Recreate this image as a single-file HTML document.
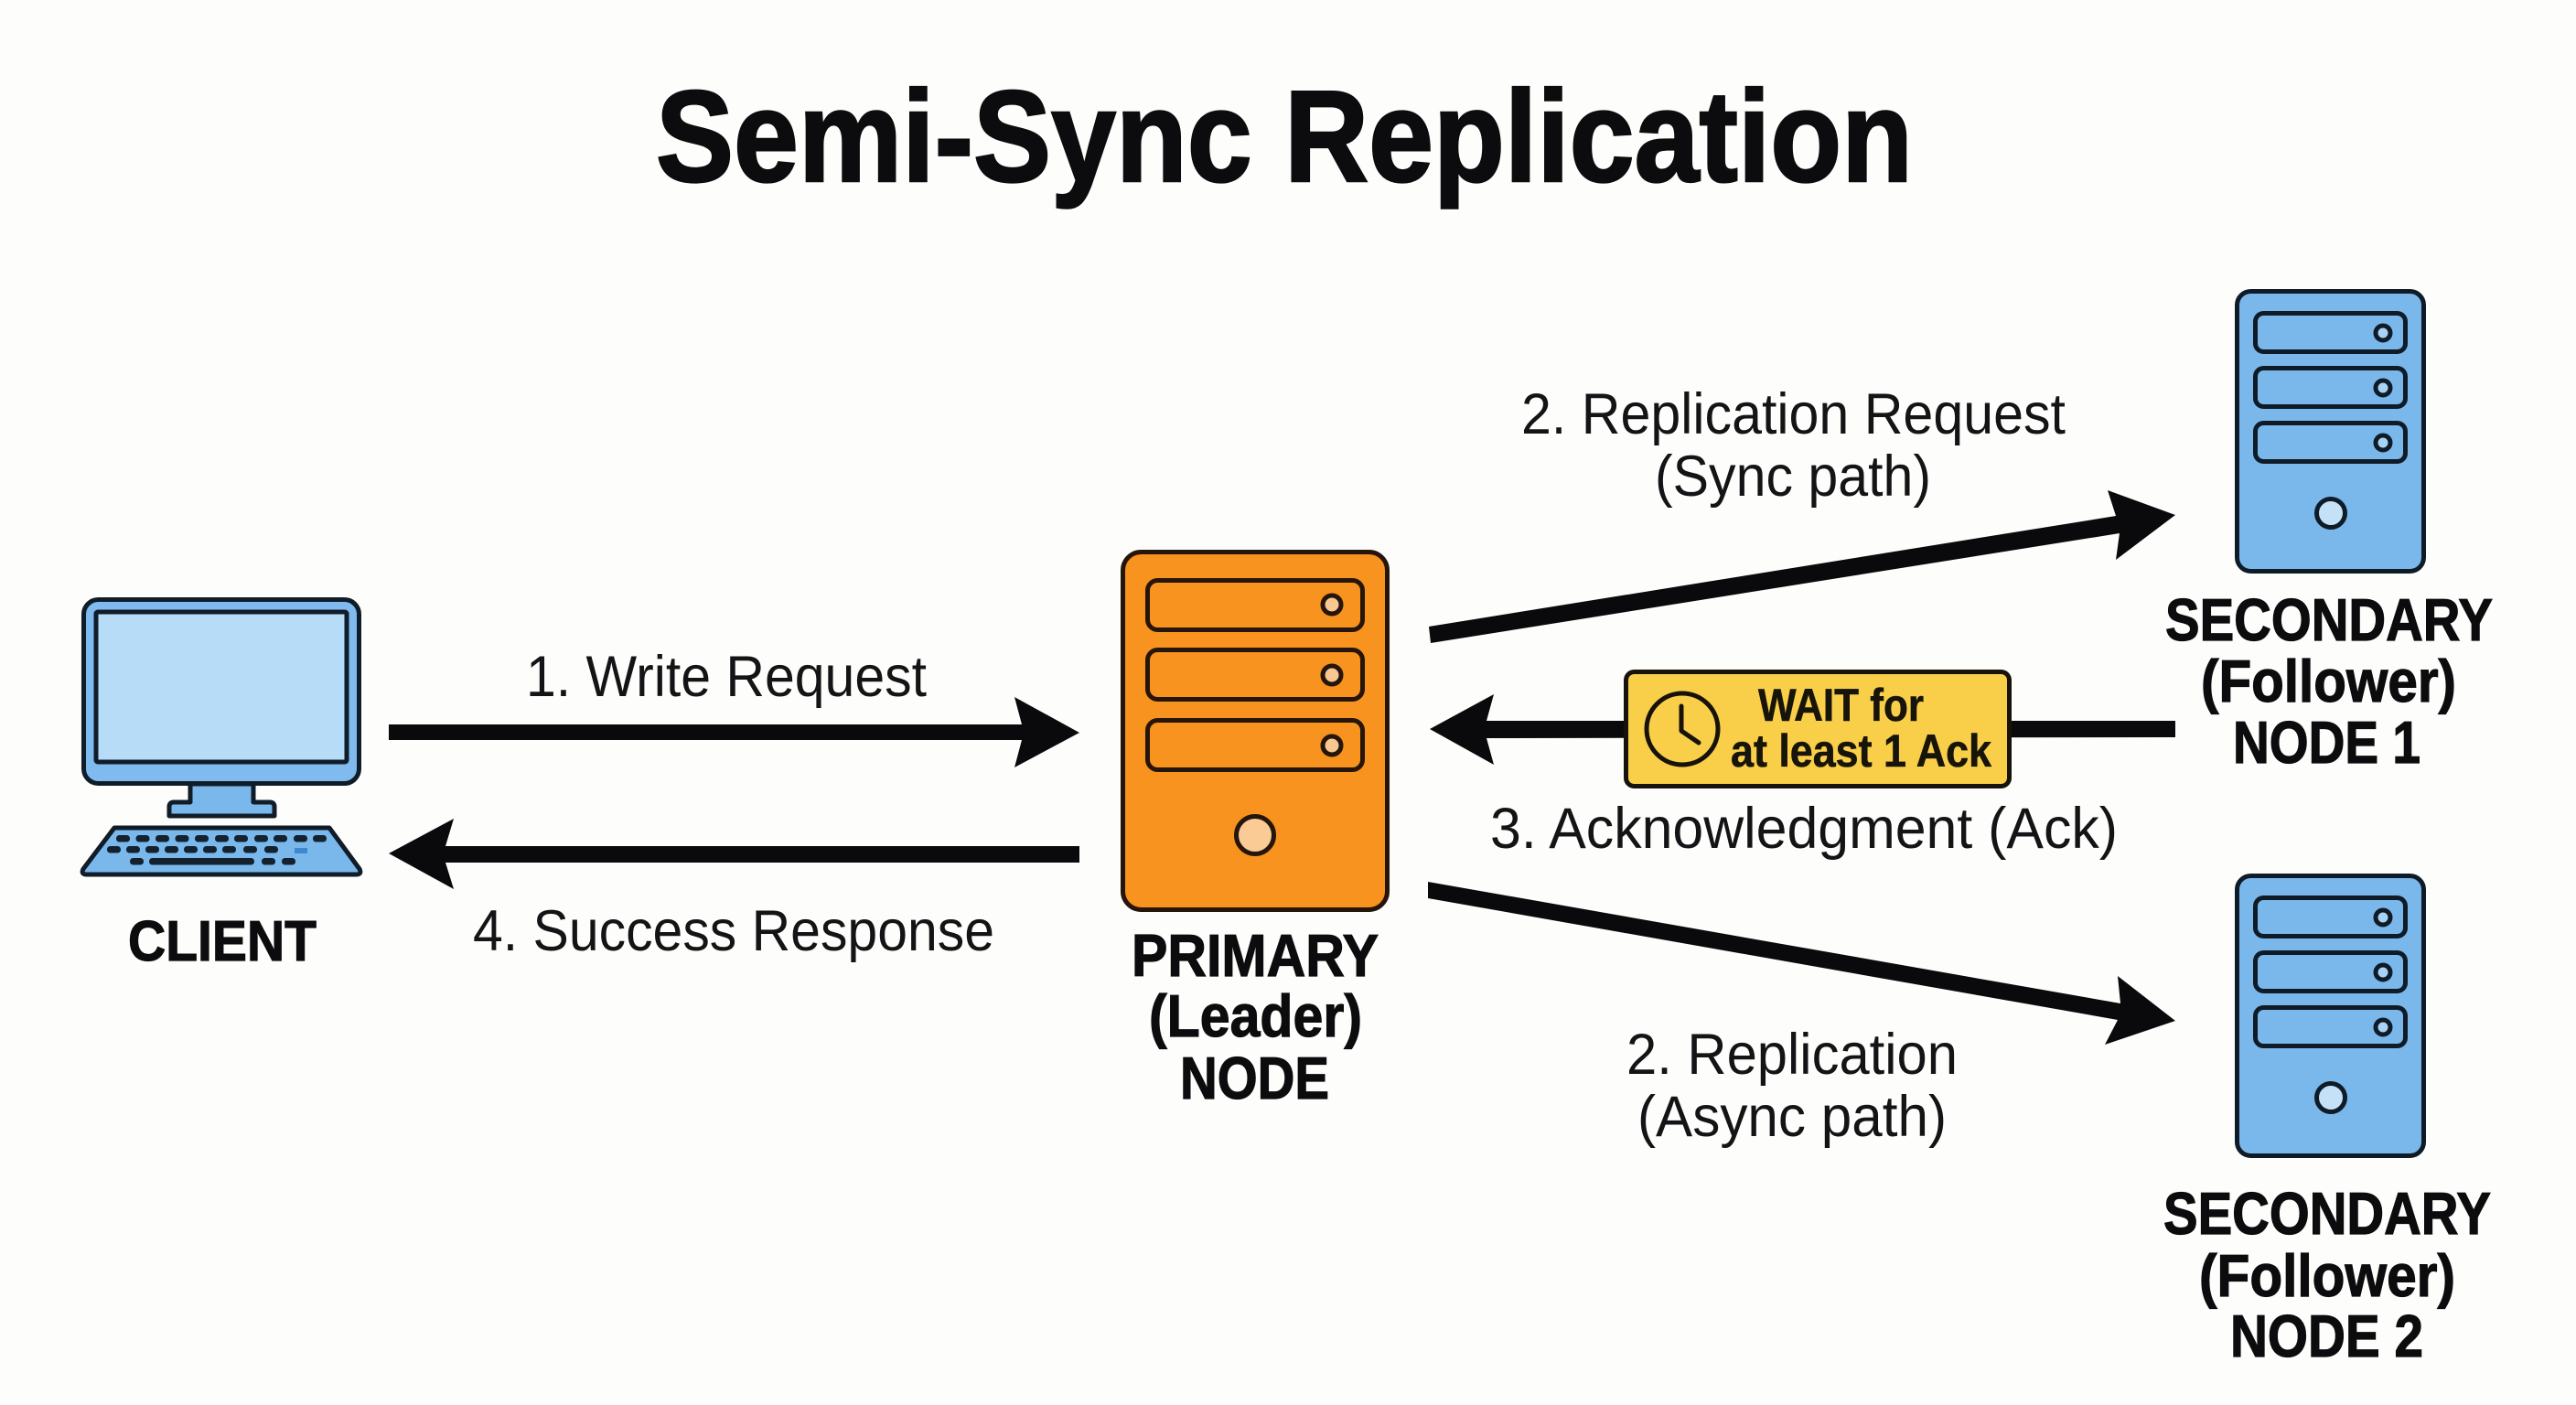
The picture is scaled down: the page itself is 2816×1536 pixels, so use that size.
<!DOCTYPE html>
<html lang="en">
<head>
<meta charset="utf-8">
<title>Semi-Sync Replication</title>
<style>
html,body{margin:0;padding:0;background:#fdfdfb;width:2816px;height:1536px;overflow:hidden}
svg{display:block}
text{font-family:"Liberation Sans",Arial,sans-serif;fill:#0c0c0e}
.b{font-weight:700;font-size:65px;stroke:#0c0c0e;stroke-width:1.2px}
.r{font-weight:400;font-size:63px;fill:#141416}
.w{font-weight:700;font-size:50px;fill:#17140a;stroke:#17140a;stroke-width:.6px}
</style>
</head>
<body>
<svg xmlns="http://www.w3.org/2000/svg" width="2816" height="1536" viewBox="0 0 2816 1536">
<rect width="2816" height="1536" fill="#fdfdfb"/>

<text x="717" y="198" font-weight="700" font-size="142" textLength="1374" lengthAdjust="spacingAndGlyphs" stroke="#0c0c0e" stroke-width="2.5">Semi-Sync Replication</text>

<!-- Client -->
<g stroke="#101c28" stroke-width="5" stroke-linejoin="round">
  <path d="M208,857 V877 H190 Q185,877 185,882 V892 H300 V882 Q300,877 295,877 H277 V857 Z" fill="#7ab8ec"/>
  <rect x="91.5" y="655.5" width="301" height="201" rx="16" fill="#7fbbee"/>
  <rect x="105" y="669" width="274" height="164" rx="2" fill="#b7dcf8"/>
  <path d="M125,905 H360 L393,950 Q396,956 389,956 H95 Q88,956 91,950 Z" fill="#7ab8ec"/>
</g>
<g fill="#14222f">
  <rect x="127" y="913" width="15" height="7.5" rx="3.5"/><rect x="148.500" y="913" width="15" height="7.5" rx="3.5"/><rect x="170" y="913" width="15" height="7.5" rx="3.5"/><rect x="191.500" y="913" width="15" height="7.5" rx="3.5"/><rect x="213" y="913" width="15" height="7.5" rx="3.5"/><rect x="235" y="913" width="15" height="7.5" rx="3.5"/><rect x="256" y="913" width="15" height="7.5" rx="3.5"/><rect x="278" y="913" width="15" height="7.5" rx="3.5"/><rect x="299" y="913" width="15" height="7.5" rx="3.5"/><rect x="321" y="913" width="15" height="7.5" rx="3.5"/><rect x="342" y="913" width="15" height="7.5" rx="3.5"/>
  <rect x="117" y="925" width="15" height="7.5" rx="3.5"/><rect x="138" y="925" width="15" height="7.5" rx="3.5"/><rect x="159" y="925" width="15" height="7.5" rx="3.5"/><rect x="180" y="925" width="15" height="7.5" rx="3.5"/><rect x="201" y="925" width="15" height="7.5" rx="3.5"/><rect x="222" y="925" width="15" height="7.5" rx="3.5"/><rect x="243" y="925" width="15" height="7.5" rx="3.5"/><rect x="266" y="925" width="15" height="7.5" rx="3.5"/><rect x="289" y="925" width="15" height="7.5" rx="3.5"/>
  <rect x="142" y="938" width="15" height="7.5" rx="3.5"/><rect x="163" y="938" width="115" height="7.5" rx="3.5"/><rect x="286" y="938" width="15" height="7.5" rx="3.5"/><rect x="308" y="938" width="15" height="7.5" rx="3.5"/>
</g>
<rect x="322" y="927" width="14" height="6" fill="#3f88cf"/>
<text class="b" style="font-size:62px" x="140" y="1050" textLength="206" lengthAdjust="spacingAndGlyphs">CLIENT</text>

<!-- Primary -->
<g stroke="#26150a" stroke-width="5">
  <rect x="1227.500" y="603.500" width="289" height="391" rx="20" fill="#f7931e"/>
  <rect x="1254.500" y="634.500" width="235" height="54" rx="11" fill="#f7931e"/>
  <rect x="1254.500" y="710.500" width="235" height="54" rx="11" fill="#f7931e"/>
  <rect x="1254.500" y="787.500" width="235" height="54" rx="11" fill="#f7931e"/>
  <circle cx="1456" cy="661" r="10" fill="#f8c792"/>
  <circle cx="1456" cy="738" r="10" fill="#f8c792"/>
  <circle cx="1456" cy="815" r="10" fill="#f8c792"/>
  <circle cx="1372" cy="913" r="20.500" fill="#fbcb95"/>
</g>
<text class="b" x="1237" y="1067" textLength="270" lengthAdjust="spacingAndGlyphs">PRIMARY</text>
<text class="b" x="1256" y="1133" textLength="233" lengthAdjust="spacingAndGlyphs">(Leader)</text>
<text class="b" x="1290" y="1201" textLength="163" lengthAdjust="spacingAndGlyphs">NODE</text>

<!-- Secondary 1 -->
<g stroke="#0f1b27" stroke-width="5">
  <rect x="2445.500" y="318.500" width="204" height="306" rx="15" fill="#7ab8ec"/>
  <rect x="2465.500" y="342.500" width="164" height="42" rx="9" fill="#7ab8ec"/>
  <rect x="2465.500" y="402.500" width="164" height="42" rx="9" fill="#7ab8ec"/>
  <rect x="2465.500" y="462.500" width="164" height="42" rx="9" fill="#7ab8ec"/>
  <circle cx="2605" cy="364" r="8" fill="#a9d3f4"/>
  <circle cx="2605" cy="424" r="8" fill="#a9d3f4"/>
  <circle cx="2605" cy="484" r="8" fill="#a9d3f4"/>
  <circle cx="2548" cy="561" r="15.500" fill="#c5e1f8"/>
</g>
<text class="b" x="2367" y="700" textLength="358" lengthAdjust="spacingAndGlyphs">SECONDARY</text>
<text class="b" x="2406" y="767" textLength="279" lengthAdjust="spacingAndGlyphs">(Follower)</text>
<text class="b" x="2441" y="834" textLength="205" lengthAdjust="spacingAndGlyphs">NODE 1</text>

<!-- Secondary 2 -->
<g stroke="#0f1b27" stroke-width="5">
  <rect x="2445.500" y="957.500" width="204" height="306" rx="15" fill="#7ab8ec"/>
  <rect x="2465.500" y="981.500" width="164" height="42" rx="9" fill="#7ab8ec"/>
  <rect x="2465.500" y="1041.500" width="164" height="42" rx="9" fill="#7ab8ec"/>
  <rect x="2465.500" y="1101.500" width="164" height="42" rx="9" fill="#7ab8ec"/>
  <circle cx="2605" cy="1003" r="8" fill="#a9d3f4"/>
  <circle cx="2605" cy="1063" r="8" fill="#a9d3f4"/>
  <circle cx="2605" cy="1123" r="8" fill="#a9d3f4"/>
  <circle cx="2548" cy="1200" r="15.500" fill="#c5e1f8"/>
</g>
<text class="b" x="2365" y="1349" textLength="358" lengthAdjust="spacingAndGlyphs">SECONDARY</text>
<text class="b" x="2404" y="1417" textLength="280" lengthAdjust="spacingAndGlyphs">(Follower)</text>
<text class="b" x="2438" y="1483" textLength="211" lengthAdjust="spacingAndGlyphs">NODE 2</text>

<!-- Arrows -->
<g fill="#0a0a0c">
  <polygon points="425,792 1117,792 1109,762 1180,801 1109,839 1117,809 425,809"/>
  <polygon points="1180,925 487,925 496,895 425,933 496,972 487,943 1180,943"/>
  <polygon points="1562,685 2313,564 2304,536 2378,563 2313,612 2317,583 1564,703"/>
  <polygon points="2378,788 1625,788 1633,759 1563,797 1633,836 1625,807 2378,806"/>
  <polygon points="1561,964 2318,1097 2315,1067 2378,1116 2301,1142 2315,1115 1561,982"/>
</g>

<!-- Wait box -->
<rect x="1777.500" y="734.500" width="419" height="125" rx="9" fill="#f9cf4a" stroke="#17120a" stroke-width="5"/>
<circle cx="1839" cy="797" r="39" fill="none" stroke="#17120a" stroke-width="5"/>
<path d="M1838,772 V799 L1857,812" fill="none" stroke="#17120a" stroke-width="5" stroke-linecap="round" stroke-linejoin="round"/>
<text class="w" x="1922" y="788" textLength="181" lengthAdjust="spacingAndGlyphs">WAIT for</text>
<text class="w" x="1892" y="838" textLength="285" lengthAdjust="spacingAndGlyphs">at least 1 Ack</text>

<!-- Labels -->
<text class="r" x="575" y="761" textLength="438" lengthAdjust="spacingAndGlyphs">1. Write Request</text>
<text class="r" x="517" y="1039" textLength="570" lengthAdjust="spacingAndGlyphs">4. Success Response</text>
<text class="r" x="1663" y="474" textLength="595" lengthAdjust="spacingAndGlyphs">2. Replication Request</text>
<text class="r" x="1809" y="542" textLength="302" lengthAdjust="spacingAndGlyphs">(Sync path)</text>
<text class="r" x="1629" y="927" textLength="686" lengthAdjust="spacingAndGlyphs">3. Acknowledgment (Ack)</text>
<text class="r" x="1778" y="1174" textLength="362" lengthAdjust="spacingAndGlyphs">2. Replication</text>
<text class="r" x="1790" y="1242" textLength="338" lengthAdjust="spacingAndGlyphs">(Async path)</text>
</svg>
</body>
</html>
